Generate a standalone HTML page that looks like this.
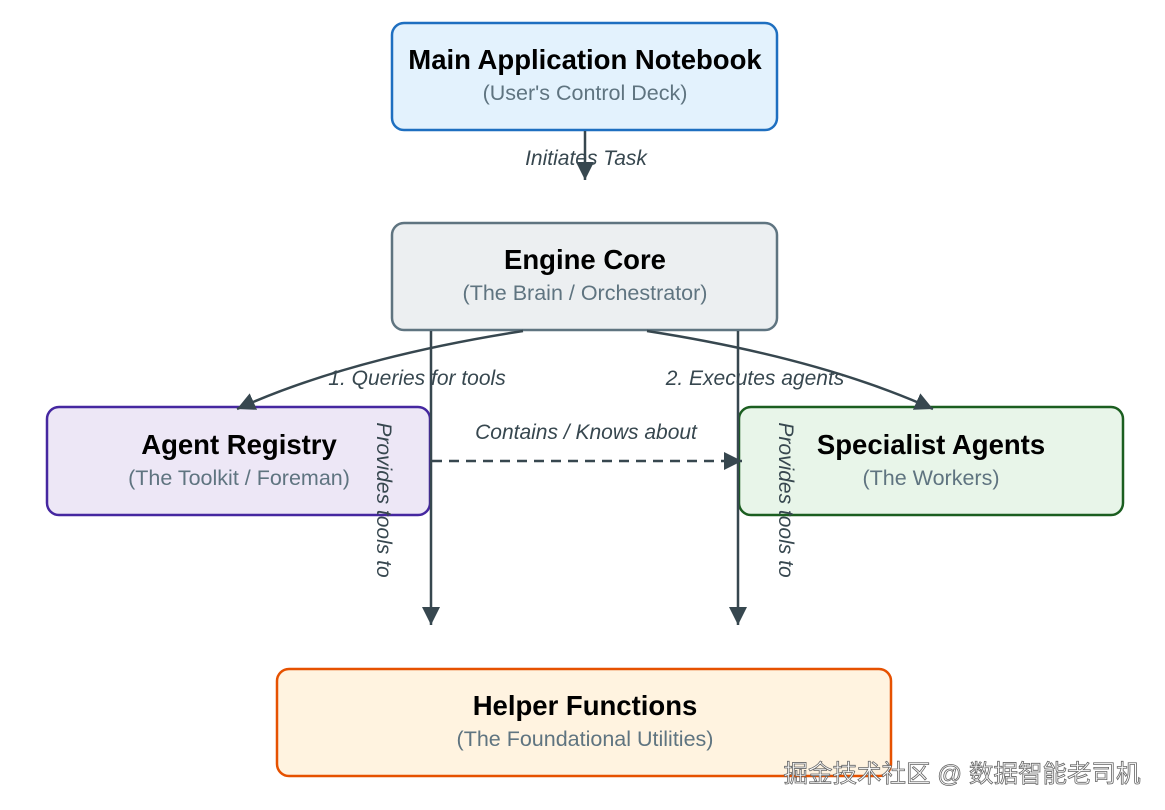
<!DOCTYPE html>
<html><head><meta charset="utf-8"><style>
html,body{margin:0;padding:0;background:#fff;width:1165px;height:810px;overflow:hidden}
svg text{font-family:"Liberation Sans","Noto Sans CJK SC",sans-serif}
.t{font-weight:bold;font-size:27.5px;fill:#000;text-anchor:middle}
.s{font-size:21.5px;fill:#5f7480;text-anchor:middle}
.l{font-size:21px;font-style:italic;fill:#37474f;text-anchor:middle}
</style></head><body>
<svg width="1165" height="810" viewBox="0 0 1165 810" xmlns="http://www.w3.org/2000/svg">
<defs>
<marker id="b" markerWidth="20" markerHeight="20" refX="18" refY="10" orient="auto" markerUnits="userSpaceOnUse" viewBox="0 0 20 20"><path d="M0,1 L18,10 L0,19 z" fill="#37474f"/></marker>
</defs>
<g stroke-width="2.5">
<rect x="392" y="23" width="385" height="107" rx="12" fill="#e3f2fd" stroke="#1e6fc0"/>
<rect x="392" y="223" width="385" height="107" rx="12" fill="#eceff1" stroke="#5f7480"/>
<rect x="47" y="407" width="383" height="108" rx="12" fill="#ede7f6" stroke="#4527a0"/>
<rect x="739" y="407" width="384" height="108" rx="12" fill="#e8f5e9" stroke="#1b5e20"/>
<rect x="277" y="669" width="614" height="107" rx="12" fill="#fff3e0" stroke="#e65100"/>
</g>
<g stroke="#37474f" stroke-width="2.5" fill="none">
<line x1="585" y1="131" x2="585" y2="180" marker-end="url(#b)"/>
<path d="M523,331 Q350,358 237,409" marker-end="url(#b)"/>
<path d="M647,331 Q820,358 933,409" marker-end="url(#b)"/>
<line x1="431" y1="331" x2="431" y2="625" marker-end="url(#b)"/>
<line x1="738" y1="331" x2="738" y2="625" marker-end="url(#b)"/>
<line x1="432" y1="461" x2="742" y2="461" stroke-dasharray="10,7" marker-end="url(#b)"/>
</g>
<text class="t" x="585" y="69">Main Application Notebook</text>
<text class="s" x="585" y="100">(User's Control Deck)</text>
<text class="t" x="585" y="269">Engine Core</text>
<text class="s" x="585" y="300">(The Brain / Orchestrator)</text>
<text class="t" x="239" y="454">Agent Registry</text>
<text class="s" x="239" y="485">(The Toolkit / Foreman)</text>
<text class="t" x="931" y="454">Specialist Agents</text>
<text class="s" x="931" y="485">(The Workers)</text>
<text class="t" x="585" y="715">Helper Functions</text>
<text class="s" x="585" y="746">(The Foundational Utilities)</text>
<text class="l" x="586" y="165">Initiates Task</text>
<text class="l" x="417" y="385">1. Queries for tools</text>
<text class="l" x="755" y="385">2. Executes agents</text>
<text class="l" x="586" y="439">Contains / Knows about</text>
<text class="l" transform="translate(377,500) rotate(90)">Provides tools to</text>
<text class="l" transform="translate(779,500) rotate(90)">Provides tools to</text>
<text x="962" y="782" font-size="24.5" fill="#fff" stroke="#666" stroke-width="0.8" text-anchor="middle" style="font-family:'Liberation Sans','Noto Sans CJK SC',sans-serif">掘金技术社区 @ 数据智能老司机</text>
</svg>
</body></html>
